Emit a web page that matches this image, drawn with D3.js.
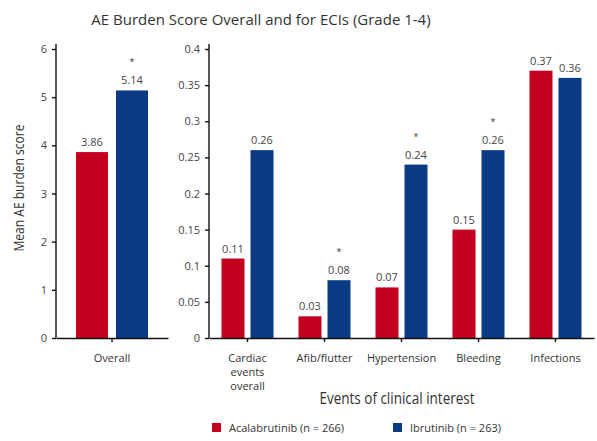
<!DOCTYPE html>
<html>
<head>
<meta charset="utf-8">
<script src="https://cdn.jsdelivr.net/npm/d3@7"></script>
<style>
  body { margin: 0; background: #fff; }
  text { font-family: "Open Sans", Lato, sans-serif; fill: #444; }
  .axis path, .axis line { stroke: #111; stroke-width: 1.4; }
  .axis text { font-size: 11px; fill: #444; }
</style>
</head>
<body>
<script>
// data
var overallLabel = ["Overall"];
var overallAcala = [3.86];
var overallIbru = [5.14];
var overallStar = [true];

var categories = ["Cardiac events overall", "Afib/flutter", "Hypertension", "Bleeding", "Infections"];
var acalaValues = [0.11, 0.03, 0.07, 0.15, 0.37];
var ibruValues = [0.26, 0.08, 0.24, 0.26, 0.36];
var ibruStar = [false, true, true, true, false];

var leftTicks = [0, 1, 2, 3, 4, 5, 6];
var rightTicks = [0, 0.05, 0.1, 0.15, 0.2, 0.25, 0.3, 0.35, 0.4];

var seriesNames = ["Acalabrutinib (n = 266)", "Ibrutinib (n = 263)"];
var red = "#c4001f";
var blue = "#0b3a84";

var width = 597, height = 441;
var svg = d3.select("body").append("svg")
  .attr("width", width)
  .attr("height", height);

var top0 = 49, base = 338;

// title
svg.append("text")
  .attr("x", 261).attr("y", 25)
  .attr("text-anchor", "middle")
  .style("font-size", "15px")
  .style("fill", "#333")
  .text("AE Burden Score Overall and for ECIs (Grade 1-4)");

//draws one panel - scales, bars, labels
function panel(x0, x1, yMax, ticks, cats, aVals, bVals, stars, barW, gap, fmt) {
  var x = d3.scaleBand().domain(cats).range([x0, x1]);
  var y = d3.scaleLinear().domain([0, yMax]).range([base, top0]);
  var g = svg.append("g");

  // bars
  var rows = cats.map(function(c, i) { return { c: c, a: aVals[i], b: bVals[i], s: stars[i] }; });
  var grp = g.selectAll(".grp").data(rows).enter().append("g");
  var mid = function(d) { return x(d.c) + x.bandwidth() / 2; };

  grp.append("rect")
    .attr("x", function(d) { return mid(d) - gap / 2 - barW; })
    .attr("y", function(d) { return y(d.a); })
    .attr("width", barW)
    .attr("height", function(d) { return base - y(d.a); })
    .attr("fill", red);
  grp.append("rect")
    .attr("x", function(d) { return mid(d) + gap / 2; })
    .attr("y", function(d) { return y(d.b); })
    .attr("width", barW)
    .attr("height", function(d) { return base - y(d.b); })
    .attr("fill", blue);

  // value labels
  grp.append("text")
    .attr("x", function(d) { return mid(d) - gap / 2 - barW / 2; })
    .attr("y", function(d) { return y(d.a) - 6; })
    .attr("text-anchor", "middle")
    .style("font-size", "11px")
    .text(function(d) { return fmt(d.a); });
  grp.append("text")
    .attr("x", function(d) { return mid(d) + gap / 2 + barW / 2; })
    .attr("y", function(d) { return y(d.b) - 6; })
    .attr("text-anchor", "middle")
    .style("font-size", "11px")
    .text(function(d) { return fmt(d.b); });
  // significance star, sits above the blue label
  grp.filter(function(d) { return d.s; }).append("text")
    .attr("x", function(d) { return mid(d) + gap / 2 + barW / 2; })
    .attr("y", function(d) { return y(d.b) - 25; })
    .attr("text-anchor", "middle")
    .style("font-size", "9px")
    .style("fill", "#333")
    .text("*");

  // axes
  var yAxis = g.append("g").attr("class", "axis")
    .attr("transform", "translate(" + x0 + ",0)")
    .call(d3.axisLeft(y).tickValues(ticks).tickSize(4).tickSizeOuter(0)
      .tickFormat(function(d) { return d3.format("~g")(d); }));
  yAxis.select(".domain").attr("d", "M0," + base + "V" + (top0 - 5));
  yAxis.selectAll(".tick text").attr("x", -9);

  var xAxis = g.append("g").attr("class", "axis")
    .attr("transform", "translate(0," + base + ")")
    .call(d3.axisBottom(x).tickSize(4).tickSizeOuter(0));
  xAxis.selectAll(".tick text").remove();

  // category labels, wrapped on spaces for the long one
  cats.forEach(function(c) {
    var words = c == "Cardiac events overall" ? ["Cardiac", "events", "overall"] : [c];
    var t = g.append("text")
      .attr("text-anchor", "middle")
      .style("font-size", "11px")
      .style("fill", "#333");
    words.forEach(function(w, i) {
      t.append("tspan")
        .attr("x", x(c) + x.bandwidth() / 2)
        .attr("y", 362 + i * 14)
        .text(w);
    });
  });
}

panel(56, 168, 6, leftTicks, overallLabel, overallAcala, overallIbru, overallStar, 32, 8, d3.format(".2f"));
panel(209, 594, 0.4, rightTicks, categories, acalaValues, ibruValues, ibruStar, 23, 6, function(d) { return d3.format("~g")(d); });

// axis titles - squeezed to look like the condensed face of the original
svg.append("text")
  .attr("transform", "translate(24,188) rotate(-90)")
  .attr("text-anchor", "middle")
  .attr("textLength", 127)
  .attr("lengthAdjust", "spacingAndGlyphs")
  .style("font-size", "14px")
  .style("fill", "#333")
  .text("Mean AE burden score");

svg.append("text")
  .attr("x", 397).attr("y", 404)
  .attr("text-anchor", "middle")
  .attr("textLength", 155)
  .attr("lengthAdjust", "spacingAndGlyphs")
  .style("font-size", "16px")
  .style("fill", "#333")
  .text("Events of clinical interest");

// legend
var legendX = [212, 393];
var legendCol = [red, blue];
seriesNames.forEach(function(s, i) {
  svg.append("rect")
    .attr("x", legendX[i]).attr("y", 423)
    .attr("width", 9).attr("height", 9)
    .attr("fill", legendCol[i]);
  svg.append("text")
    .attr("x", legendX[i] + 17).attr("y", 432)
    .style("font-size", "11px")
    .style("fill", "#333")
    .text(s);
});
</script>
</body>
</html>
